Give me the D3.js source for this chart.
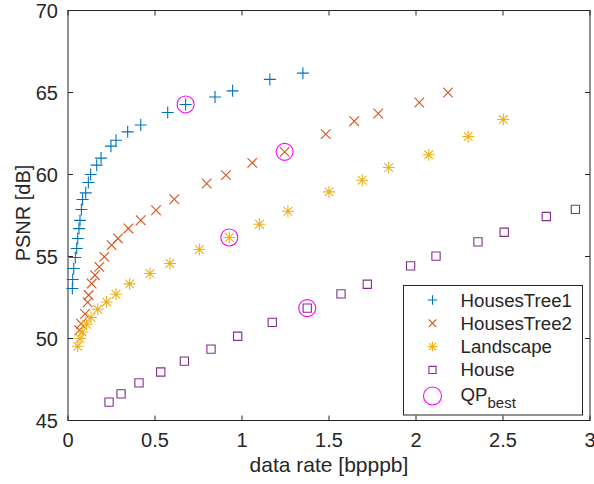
<!DOCTYPE html>
<html>
<head>
<meta charset="utf-8">
<script src="https://cdn.jsdelivr.net/npm/d3@7"></script>
<style>
body { margin: 0; background: #fff; }
text { font-family: "Liberation Sans", Arial, sans-serif; fill: #262626; }
</style>
</head>
<body>
<svg id="chart" width="594" height="484"></svg>
<script>
// data
var tree1X = [0.025, 0.027, 0.033, 0.042, 0.05, 0.056, 0.063, 0.069, 0.077, 0.084, 0.102, 0.117, 0.13, 0.165, 0.19, 0.247, 0.276, 0.343, 0.418, 0.573, 0.676, 0.845, 0.946, 1.16, 1.35];
var tree1Y = [53.05, 53.6, 54.27, 54.94, 55.49, 56.1, 56.7, 57.2, 57.87, 58.48, 58.88, 59.51, 60.0, 60.57, 61.0, 61.73, 62.09, 62.6, 63.02, 63.78, 64.27, 64.73, 65.1, 65.8, 66.18];
var tree2X = [0.065, 0.075, 0.098, 0.113, 0.119, 0.136, 0.155, 0.18, 0.209, 0.251, 0.287, 0.347, 0.418, 0.506, 0.611, 0.797, 0.908, 1.059, 1.245, 1.481, 1.645, 1.783, 2.019, 2.184];
var tree2Y = [50.5, 50.9, 51.5, 52.2, 52.65, 53.35, 53.86, 54.37, 54.98, 55.69, 56.1, 56.71, 57.21, 57.82, 58.49, 59.45, 59.96, 60.71, 61.38, 62.46, 63.25, 63.72, 64.39, 65.0];
var landX = [0.056, 0.069, 0.082, 0.107, 0.132, 0.171, 0.222, 0.276, 0.354, 0.471, 0.586, 0.755, 0.927, 1.1, 1.264, 1.5, 1.691, 1.843, 2.073, 2.3, 2.502];
var landY = [49.53, 50.0, 50.4, 50.87, 51.28, 51.78, 52.23, 52.7, 53.33, 53.96, 54.57, 55.43, 56.16, 56.97, 57.76, 58.94, 59.65, 60.43, 61.2, 62.32, 63.35];
var houseX = [0.236, 0.305, 0.408, 0.533, 0.669, 0.822, 0.975, 1.174, 1.375, 1.569, 1.72, 1.969, 2.115, 2.356, 2.507, 2.749, 2.916];
var houseY = [46.12, 46.62, 47.29, 47.96, 48.62, 49.35, 50.14, 50.98, 51.85, 52.72, 53.31, 54.43, 55.02, 55.89, 56.48, 57.44, 57.87];
var bestX = [0.676, 1.245, 0.927, 1.375];
var bestY = [64.27, 61.38, 56.16, 51.85];

var seriesNames = ["HousesTree1", "HousesTree2", "Landscape", "House"];
var xTicks = [0, 0.5, 1, 1.5, 2, 2.5, 3];
var yTicks = [45, 50, 55, 60, 65, 70];

var colors = {"HousesTree1": "#0072BD", "HousesTree2": "#D95319", "Landscape": "#EDB120", "House": "#7E2F8E"};
var shapes = {"HousesTree1": "plus", "HousesTree2": "cross", "Landscape": "star", "House": "square"};
var series = [
    {name: "HousesTree1", x: tree1X, y: tree1Y},
    {name: "HousesTree2", x: tree2X, y: tree2Y},
    {name: "Landscape", x: landX, y: landY},
    {name: "House", x: houseX, y: houseY}
];

var plotL = 68, plotR = 590, plotT = 10.5, plotB = 420.5;
var axisColor = "#262626";

var svg = d3.select("#chart");
var x = d3.scaleLinear().domain([0, 3]).range([plotL, plotR]);
var y = d3.scaleLinear().domain([45, 70]).range([plotB, plotT]);

function markerPath(shape, s) {
    var h = s / 2;
    if (shape == "plus") return "M" + (-h) + ",0H" + h + "M0," + (-h) + "V" + h;
    if (shape == "cross") { var c = h * 0.8; return "M" + (-c) + "," + (-c) + "L" + c + "," + c + "M" + (-c) + "," + c + "L" + c + "," + (-c); }
    if (shape == "star") {
        var c = h * 0.72;
        return "M" + (-h) + ",0H" + h + "M0," + (-h) + "V" + h +
            "M" + (-c) + "," + (-c) + "L" + c + "," + c + "M" + (-c) + "," + c + "L" + c + "," + (-c);
    }
    if (shape == "square") { var q = h * 0.75; return "M" + (-q) + "," + (-q) + "H" + q + "V" + q + "H" + (-q) + "Z"; }
    return "";
}

// axes box
svg.append("rect").attr("x", plotL).attr("y", plotT).attr("width", plotR - plotL).attr("height", plotB - plotT)
    .style("fill", "white").style("stroke", axisColor).style("stroke-width", 1);

// ticks (inward, on all four sides)
xTicks.forEach(function (t) {
    svg.append("line").attr("x1", x(t)).attr("x2", x(t)).attr("y1", plotB).attr("y2", plotB - 5).style("stroke", axisColor);
    svg.append("line").attr("x1", x(t)).attr("x2", x(t)).attr("y1", plotT).attr("y2", plotT + 5).style("stroke", axisColor);
    svg.append("text").text(t).attr("x", x(t)).attr("y", plotB + 26).style("text-anchor", "middle").style("font-size", "20px");
});
yTicks.forEach(function (t) {
    svg.append("line").attr("x1", plotL).attr("x2", plotL + 5).attr("y1", y(t)).attr("y2", y(t)).style("stroke", axisColor);
    svg.append("line").attr("x1", plotR).attr("x2", plotR - 5).attr("y1", y(t)).attr("y2", y(t)).style("stroke", axisColor);
    svg.append("text").text(t).attr("x", plotL - 10).attr("y", y(t) + 7.5).style("text-anchor", "end").style("font-size", "20px");
});

svg.append("text").text("data rate [bpppb]").attr("x", (plotL + plotR) / 2).attr("y", 472)
    .style("text-anchor", "middle").style("font-size", "21px");
svg.append("text").text("PSNR [dB]").attr("transform", "translate(30,213) rotate(-90)")
    .style("text-anchor", "middle").style("font-size", "20px");

// points
series.forEach(function (s) {
    var pts = s.x.map(function (v, i) { return [v, s.y[i]]; });
    svg.append("g").selectAll("path").data(pts).enter().append("path")
        .attr("transform", function (d) { return "translate(" + x(d[0]) + "," + y(d[1]) + ")"; })
        .attr("d", markerPath(shapes[s.name], s.name == "House" ? 11 : 12))
        .style("fill", "none").style("stroke", colors[s.name]).style("stroke-width", 1.1);
});

// QP best circles
svg.append("g").selectAll("circle").data(bestX).enter().append("circle")
    .attr("cx", function (d) { return x(d); })
    .attr("cy", function (d, i) { return y(bestY[i]); })
    .attr("r", 8.5).style("fill", "none").style("stroke", "#FF00FF").style("stroke-width", 1.1);

// legend
var lg = svg.append("g").attr("transform", "translate(403.5,285.5)");
lg.append("rect").attr("width", 179).attr("height", 129.5).style("fill", "white").style("stroke", axisColor);
seriesNames.forEach(function (n, i) {
    var base = 21 + i * 23.3;
    lg.append("path").attr("transform", "translate(29," + (base - 6.5) + ")").attr("d", markerPath(shapes[n], 9.5))
        .style("fill", "none").style("stroke", colors[n]).style("stroke-width", 1.1);
    lg.append("text").text(n).attr("x", 57).attr("y", base).style("font-size", "18.7px");
});
lg.append("circle").attr("cx", 29).attr("cy", 110.5).attr("r", 9).style("fill", "none").style("stroke", "#FF00FF").style("stroke-width", 1.1);
var qp = lg.append("text").attr("x", 57).attr("y", 115.5).style("font-size", "18.7px");
qp.append("tspan").text("QP");
qp.append("tspan").text("best").attr("dy", 7).style("font-size", "15px");
</script>
</body>
</html>
